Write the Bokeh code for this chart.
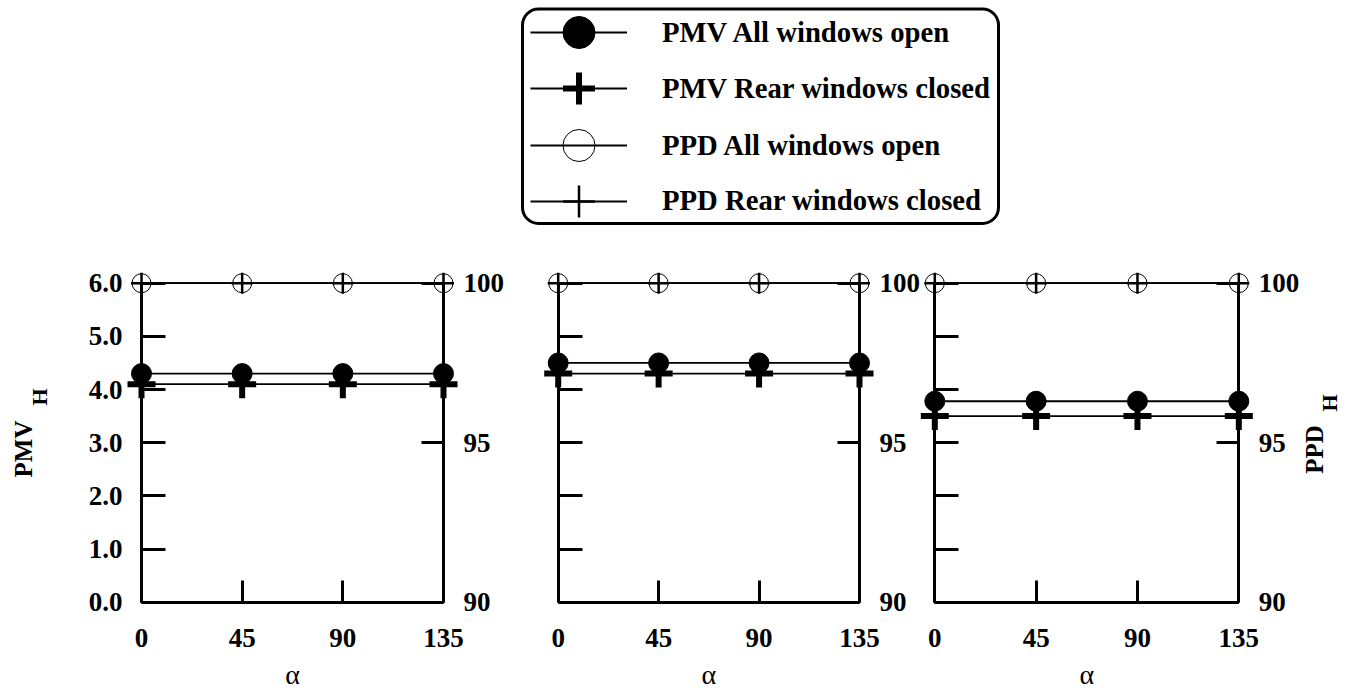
from bokeh.plotting import figure
from bokeh.models import (Range1d, LinearAxis, FixedTicker, Legend, LegendItem,
                          Label, BoxAnnotation)
from bokeh.embed import file_html
from bokeh.resources import INLINE

# ---------------- data ----------------
ALPHA = [0, 45, 90, 135]
X_TICK_LABELS = ["0", "45", "90", "135"]

PMV_TICKS = [0, 1, 2, 3, 4, 5, 6]
PMV_TICK_LABELS = ["0.0", "1.0", "2.0", "3.0", "4.0", "5.0", "6.0"]
PPD_TICKS = [90, 95, 100]
PPD_TICK_LABELS = ["90", "95", "100"]

# panel 1
PMV_OPEN_1 = [4.30, 4.30, 4.30, 4.30]
PMV_CLOSED_1 = [4.10, 4.10, 4.10, 4.10]
PPD_OPEN_1 = [100, 100, 100, 100]
PPD_CLOSED_1 = [100, 100, 100, 100]
# panel 2
PMV_OPEN_2 = [4.50, 4.50, 4.50, 4.50]
PMV_CLOSED_2 = [4.30, 4.30, 4.30, 4.30]
PPD_OPEN_2 = [100, 100, 100, 100]
PPD_CLOSED_2 = [100, 100, 100, 100]
# panel 3
PMV_OPEN_3 = [3.78, 3.78, 3.78, 3.78]
PMV_CLOSED_3 = [3.50, 3.50, 3.50, 3.50]
PPD_OPEN_3 = [100, 100, 100, 100]
PPD_CLOSED_3 = [100, 100, 100, 100]

LABELS = ["PMV All windows open", "PMV Rear windows closed",
          "PPD All windows open", "PPD Rear windows closed"]

PANEL_DATA = [
    (PMV_OPEN_1, PMV_CLOSED_1, PPD_OPEN_1, PPD_CLOSED_1),
    (PMV_OPEN_2, PMV_CLOSED_2, PPD_OPEN_2, PPD_CLOSED_2),
    (PMV_OPEN_3, PMV_CLOSED_3, PPD_OPEN_3, PPD_CLOSED_3),
]

# ---------------- layout (canvas pixels) ----------------
W, H = 1351, 693
AX_L = [141.0, 557.7, 934.3]
AX_R = [443.0, 859.0, 1238.3]
Y_BOT = 601.7   # pmv 0 / ppd 90
Y_TOP = 282.7   # pmv 6 / ppd 100
LEGEND_ROWS = [32.3, 88.3, 145.0, 200.5]

FONT = "Liberation Serif"

ky = (Y_BOT - Y_TOP) / 6.0
pmv_start = 0 - (H - Y_BOT) / ky
pmv_end = 6 + Y_TOP / ky

p = figure(width=W, height=H,
           x_range=Range1d(0, W), y_range=Range1d(H, 0),
           x_axis_type=None, y_axis_type=None,
           toolbar_location=None, output_backend="svg",
           min_border=0, outline_line_color=None)
p.background_fill_color = "white"

p.extra_y_ranges = {
    "pmv": Range1d(pmv_start, pmv_end),
    "ppd": Range1d(90 + pmv_start * 10 / 6, 90 + pmv_end * 10 / 6),
}
xr = {}
for i in range(3):
    kx = (AX_R[i] - AX_L[i]) / 135.0
    xr[f"x{i}"] = Range1d(-AX_L[i] / kx, 135 + (W - AX_R[i]) / kx)
p.extra_x_ranges = xr


def style_axis(ax, tick_in, standoff):
    ax.axis_line_width = 3
    ax.axis_line_color = "black"
    ax.major_tick_line_width = 3
    ax.major_tick_line_color = "black"
    ax.major_tick_in = tick_in
    ax.major_tick_out = 0
    ax.minor_tick_line_color = None
    ax.major_label_standoff = standoff
    ax.major_label_text_font = FONT
    ax.major_label_text_font_style = "bold"
    ax.major_label_text_font_size = "27px"
    ax.major_label_text_color = "black"


legend_renderers = None
for i in range(3):
    xn = f"x{i}"
    left = LinearAxis(x_range_name=xn, y_range_name="pmv", fixed_location=0,
                      bounds=(0, 6), ticker=FixedTicker(ticks=PMV_TICKS))
    if i == 0:
        left.major_label_overrides = dict(zip(PMV_TICKS, PMV_TICK_LABELS))
    else:
        left.major_label_overrides = {t: "" for t in PMV_TICKS}
    style_axis(left, 24, 19)
    p.add_layout(left, "left")

    right = LinearAxis(x_range_name=xn, y_range_name="ppd", fixed_location=135,
                       bounds=(90, 100), ticker=FixedTicker(ticks=PPD_TICKS))
    right.major_label_overrides = dict(zip(PPD_TICKS, PPD_TICK_LABELS))
    style_axis(right, 22, 20)
    p.add_layout(right, "right")

    bottom = LinearAxis(x_range_name=xn, y_range_name="pmv", fixed_location=0,
                        bounds=(0, 135), ticker=FixedTicker(ticks=ALPHA))
    bottom.major_label_overrides = dict(zip(ALPHA, X_TICK_LABELS))
    style_axis(bottom, 22, 27)
    p.add_layout(bottom, "below")

    pmv_o, pmv_c, ppd_o, ppd_c = PANEL_DATA[i]
    lw = 1.8
    l1 = p.line(ALPHA, pmv_o, x_range_name=xn, y_range_name="pmv", line_color="black", line_width=lw)
    l2 = p.line(ALPHA, pmv_c, x_range_name=xn, y_range_name="pmv", line_color="black", line_width=lw)
    l3 = p.line(ALPHA, ppd_o, x_range_name=xn, y_range_name="ppd", line_color="black", line_width=lw)
    l4 = p.line(ALPHA, ppd_c, x_range_name=xn, y_range_name="ppd", line_color="black", line_width=lw)
    m1 = p.scatter(ALPHA, pmv_o, x_range_name=xn, y_range_name="pmv", marker="circle", size=20,
                   fill_color="black", line_color="black", line_width=1)
    m2 = p.scatter(ALPHA, pmv_c, x_range_name=xn, y_range_name="pmv", marker="cross", size=28,
                   line_color="black", line_width=6)
    m3 = p.scatter(ALPHA, ppd_o, x_range_name=xn, y_range_name="ppd", marker="circle", size=19,
                   fill_color=None, line_color="black", line_width=1)
    m4 = p.scatter(ALPHA, ppd_c, x_range_name=xn, y_range_name="ppd", marker="cross", size=21,
                   line_color="black", line_width=2.5)
    if i == 0:
        legend_renderers = [[l1, m1], [l2, m2], [l3, m3], [l4, m4]]

    # x-axis title
    p.add_layout(Label(x=67.5, y=674, x_range_name=xn, text="α", text_align="center",
                       text_baseline="middle", text_font=FONT, text_font_size="28px",
                       text_color="black"))


def add_rot(x, y, text, size):
    p.add_layout(Label(x=x, y=y, text=text, angle=90, angle_units="deg",
                       text_align="center", text_baseline="middle",
                       text_font=FONT, text_font_style="bold", text_font_size=size,
                       text_color="black"))


add_rot(22.5, 448.5, "PMV", "25px")
add_rot(38.5, 396.5, "H", "22px")
add_rot(1313.5, 449, "PPD", "25px")
add_rot(1328.5, 402.5, "H", "22px")

# legend frame
box_kw = dict(left=522, right=998, top=8.5, bottom=223, fill_color=None, fill_alpha=0,
              line_color="black", line_alpha=1.0, line_width=3)
if "border_radius" in BoxAnnotation.properties():
    box_kw["border_radius"] = 16
p.add_layout(BoxAnnotation(**box_kw))

# one legend per entry so the rows can sit closer than the glyph height
GLYPH_H = 80
for lab, rs, yc in zip(LABELS, legend_renderers, LEGEND_ROWS):
    leg = Legend(items=[LegendItem(label=lab, renderers=rs)],
                 location=(530, H - (yc + GLYPH_H / 2)),
                 glyph_width=97, glyph_height=GLYPH_H,
                 spacing=0, padding=0, margin=0, label_standoff=35,
                 border_line_color=None, background_fill_alpha=0,
                 label_text_font=FONT, label_text_font_style="bold",
                 label_text_font_size="28.7px", label_text_color="black")
    p.add_layout(leg)

open("out.html", "w").write(file_html(p, INLINE))
